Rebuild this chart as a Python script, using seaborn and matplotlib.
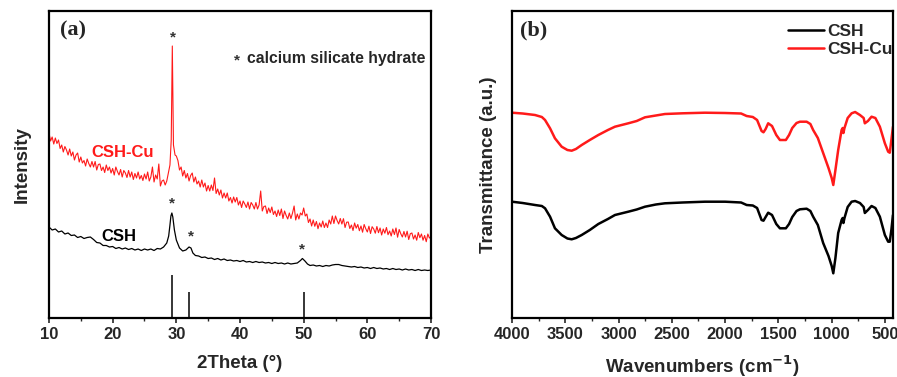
import numpy as np
import matplotlib
matplotlib.use("Agg")
import matplotlib.pyplot as plt
from matplotlib.ticker import MultipleLocator
import seaborn as sns

# XRD, panel (a): CSH-Cu on a 0.25 deg grid, plus the sharp peak near 29.4 deg
red_2theta = np.concatenate([np.arange(10, 29, 0.25),
                             [29.0, 29.2, 29.3, 29.37, 29.45, 29.55, 29.8],
                             np.arange(30, 70.01, 0.25)])
red_int = [185, 177, 181, 174, 180, 174.5, 178, 169.5, 173, 166, 171.5, 168,
           163, 169, 162, 166, 158, 163, 165, 156, 161, 155, 157.5, 152,
           159, 154.5, 151, 156.5, 151, 156.5, 148, 153.5, 154, 147.5, 151, 145.5,
           153, 147.5, 151, 145, 149.5, 143, 151, 146.5, 143, 148.5, 141, 147.5,
           145, 140.5, 147.5, 141, 146, 138.5, 144.5, 140, 146, 139, 142.5, 137.5,
           144, 139, 146, 137, 141, 151, 136, 143, 139, 154, 132, 137,
           138, 133, 137, 145,
           153, 178, 238, 272, 228, 173, 163,
           162, 157.5, 148, 151,
           142, 147.5, 140, 144.5, 137, 142.5, 145, 136, 141, 134, 137, 131,
           138, 131, 135, 127, 132.5, 127, 133, 127.5, 140, 124.5, 129, 123,
           128, 120, 125, 120, 125, 117, 120.5, 115, 121, 116, 120.5, 113,
           117, 110.5, 117, 114, 110.5, 116, 109, 115.5, 113, 109, 115.5, 109,
           113, 127, 107, 111.5, 112, 104.5, 110, 105.5, 111, 103.5, 107, 101.5,
           108, 102.5, 109, 99.5, 107, 102.5, 99, 105, 99.5, 105, 112, 98,
           104, 99, 105, 103, 110, 102, 104, 95.5, 99, 92, 98, 91.7,
           96.5, 89.3, 95, 91, 97, 90.5, 95, 90.5, 98, 94, 102, 94.5,
           102, 97.5, 94, 99.5, 94, 99.3, 90.5, 95.8, 96, 89.5, 93, 87.5,
           95, 89.8, 93.5, 87.3, 92, 85.8, 93.5, 89.3, 86, 91.8, 84.5, 91.3,
           89, 84.8, 91.5, 85.3, 90, 83, 89, 84.8, 90.5, 83.3, 87, 82,
           89, 83.5, 90, 80.8, 88.5, 84.3, 81, 86.5, 81, 86.8, 78.5, 84.3,
           85, 79, 83, 77.8, 85.5, 80.3, 84, 77.8, 82.5, 76.3, 84, 80,
           81]

blk_2theta = [10.0, 10.5, 11.0, 11.5, 12.0, 12.5, 13.0, 13.5, 14.0, 14.5, 15.0, 15.5, 16.0, 16.5,
              17.0, 17.5, 18.0, 18.5, 19.0, 19.5, 20.0, 20.5, 21.0, 21.5, 22.0, 22.5, 23.0, 23.5,
              24.0, 24.5, 25.0, 25.5, 26.0, 26.5, 27.0, 27.5, 28.0, 28.5, 28.8, 29.0, 29.15, 29.3,
              29.45, 29.7, 30.0, 30.5, 31.0, 31.5, 32.0, 32.3, 32.6, 33.0, 33.5, 34.0, 34.5, 35.0,
              35.5, 36.0, 36.5, 37.0, 37.5, 38.0, 38.5, 39.0, 39.5, 40.0, 40.5, 41.0, 41.5, 42.0,
              42.5, 43.0, 43.5, 44.0, 44.5, 45.0, 45.5, 46.0, 46.5, 47.0, 47.5, 48.0, 48.5, 49.0,
              49.5, 49.8, 50.2, 50.6, 51.0, 51.5, 52.0, 52.5, 53.0, 53.5, 54.0, 54.5, 55.0, 55.5,
              56.0, 56.5, 57.0, 57.5, 58.0, 58.5, 59.0, 59.5, 60.0, 60.5, 61.0, 61.5, 62.0, 62.5,
              63.0, 63.5, 64.0, 64.5, 65.0, 65.5, 66.0, 66.5, 67.0, 67.5, 68.0, 68.5, 69.0, 69.5, 70.0]
blk_int = [91, 88, 89, 86, 87, 84, 85, 82.5, 83, 80.5, 81.5, 79.5, 80.5, 81,
           78.5, 75.5, 75, 72.5, 72.5, 71, 71.5, 69.5, 70.5, 69, 70, 68.5, 69.5, 68,
           69, 67.5, 69, 68, 69, 67.5, 69.5, 69, 71, 75, 82, 93, 102, 105,
           101, 88, 78, 70, 67, 68, 71, 70, 65, 62.5, 62, 60.5, 61, 59.5,
           60, 58.5, 59.5, 58, 59, 57.5, 58, 57, 57.5, 56.5, 57.5, 56, 56.5, 55.5,
           56.5, 55.5, 56, 55, 55.5, 54.5, 55.5, 54.5, 55, 54, 55, 54, 54.5, 55,
           57.5, 59.5, 57, 54, 52.5, 53, 52, 52.5, 51.5, 52.5, 52, 53, 53.5, 53.5,
           52.5, 52, 51.5, 51, 51.5, 50.5, 51, 50, 50.5, 49.5, 50.5, 49.5, 50, 49,
           49.5, 48.5, 49.5, 48.5, 49, 48, 49, 48, 48.5, 47.5, 48.5, 47.5, 48, 47.5, 48]

ref_2theta = [29.4, 32.0, 50.0]
ref_height = [43, 26, 26]

star_pos = [(29.4, 281), (29.3, 115), (32.3, 82), (49.8, 69)]

# FTIR, panel (b)
wn = [4000, 3900, 3784, 3720, 3690, 3643, 3597, 3534, 3480, 3440, 3400, 3346, 3270, 3190,
      3100, 3034, 2909, 2830, 2752, 2650, 2565, 2400, 2190, 2000, 1850, 1798, 1740, 1700,
      1658, 1640, 1620, 1596, 1560, 1520, 1486, 1430, 1400, 1370, 1330, 1298, 1235, 1200,
      1174, 1130, 1080, 1030, 1000, 985, 965, 939, 907, 897, 890, 880, 850, 813, 780, 735,
      700, 689, 660, 626, 590, 548, 501, 470, 455, 440, 425]
ftir_cu = [205.3, 204.5, 203, 201, 198, 189.7, 179.7, 171.3, 168, 167.3, 169, 173, 178, 183,
           188, 191.3, 194.7, 197, 200.7, 202.5, 204, 204.7, 205.3, 205, 204.5, 202, 201, 198,
           187, 185.7, 189, 194.7, 192, 183, 178, 178, 183, 190, 195, 196.3, 196.3, 194,
           188, 180, 165, 150, 140, 133, 148, 168, 188, 190, 185, 190, 200, 204.7, 206, 203,
           200, 194.7, 197, 201.3, 200, 191.3, 174.7, 166.3, 165.3, 178, 191.3]
ftir_csh = [116.3, 115, 113, 112, 109.7, 101.3, 89.7, 83, 79.5, 78.7, 80, 83, 88, 94,
            99, 103, 106.3, 108.5, 111.3, 113.5, 114.7, 115.5, 116.3, 116.3, 115.5, 113, 112.5, 110,
            98, 97.3, 101, 105.3, 103, 94, 89.7, 89.7, 94, 101, 107, 108.7, 109.3, 107,
            101.3, 93, 75, 62, 52, 44.7, 60, 85, 98, 100, 95, 100, 111, 116.3, 117, 115,
            111, 105, 108, 112, 110, 101.3, 83, 76.3, 76.3, 88, 103]

sns.set_style("white")
plt.rcParams['font.family'] = ['Liberation Sans', 'DejaVu Sans']
plt.rcParams['font.weight'] = 'bold'

fig = plt.figure(figsize=(8.97, 3.77), dpi=100)
ax1 = fig.add_axes([0.0546, 0.1565, 0.4259, 0.8143])
ax2 = fig.add_axes([0.5708, 0.1565, 0.4247, 0.8143])

RED = "#ff1a1a"

sns.lineplot(x=red_2theta, y=red_int, ax=ax1, color=RED, lw=0.8, estimator=None)
sns.lineplot(x=blk_2theta, y=blk_int, ax=ax1, color="black", lw=0.9, estimator=None)
ax1.vlines(ref_2theta, 0, ref_height, color="black", lw=1.1)
for x, y in star_pos:
    ax1.text(x, y, "*", ha="center", va="center", fontsize=11, color="#333333")
ax1.text(39.5, 258, "*", ha="center", va="center", fontsize=11, color="#333333")
ax1.text(41.1, 260, "calcium silicate hydrate", ha="left", va="center", fontsize=11.3)
ax1.text(21.6, 166, "CSH-Cu", color=RED, ha="center", va="center", fontsize=12)
ax1.text(20.9, 82, "CSH", color="black", ha="center", va="center", fontsize=12)
ax1.text(11.7, 288, "(a)", family="Liberation Serif", fontsize=16, ha="left", va="center")
ax1.set_xlim(10, 70)
ax1.set_ylim(0, 307)
ax1.xaxis.set_major_locator(MultipleLocator(10))
ax1.xaxis.set_minor_locator(MultipleLocator(5))
ax1.set_xlabel("2Theta (°)", fontsize=13.5, fontweight="bold", labelpad=9)
ax1.set_ylabel("Intensity", fontsize=13.5, fontweight="bold", labelpad=13)

sns.lineplot(x=wn, y=ftir_csh, ax=ax2, color="black", lw=1.8, estimator=None, label="CSH")
sns.lineplot(x=wn, y=ftir_cu, ax=ax2, color=RED, lw=1.8, estimator=None, label="CSH-Cu")
ax2.set_xlim(4000, 425)
ax2.set_ylim(0, 307)
ax2.xaxis.set_major_locator(MultipleLocator(500))
ax2.xaxis.set_minor_locator(MultipleLocator(250))
ax2.text(3925, 288, "(b)", family="Liberation Serif", fontsize=16, ha="left", va="center")
ax2.set_xlabel("Wavenumbers (cm$^{\\mathbf{-1}}$)", fontsize=13.5, fontweight="bold", labelpad=8)
ax2.set_ylabel("Transmittance (a.u.)", fontsize=13.5, fontweight="bold", labelpad=11)
leg = ax2.legend(loc="upper right", bbox_to_anchor=(1.012, 0.975), frameon=False,
                 fontsize=12.5, handlelength=2.1, handletextpad=0.15, borderaxespad=0,
                 borderpad=0.3, labelspacing=0.15)
for t in leg.get_texts():
    t.set_fontweight("bold")

for ax in (ax1, ax2):
    ax.set_yticks([])
    for s in ax.spines.values():
        s.set_linewidth(1.6)
        s.set_color("black")
    ax.tick_params(axis="x", which="major", direction="out", length=3.5, width=1.2,
                   labelsize=12, pad=3, bottom=True, top=False)
    ax.tick_params(axis="x", which="minor", direction="out", length=2.5, width=1.0,
                   bottom=True, top=False)
    for lbl in ax.get_xticklabels():
        lbl.set_fontweight("bold")

fig.savefig("out.png", dpi=100)
